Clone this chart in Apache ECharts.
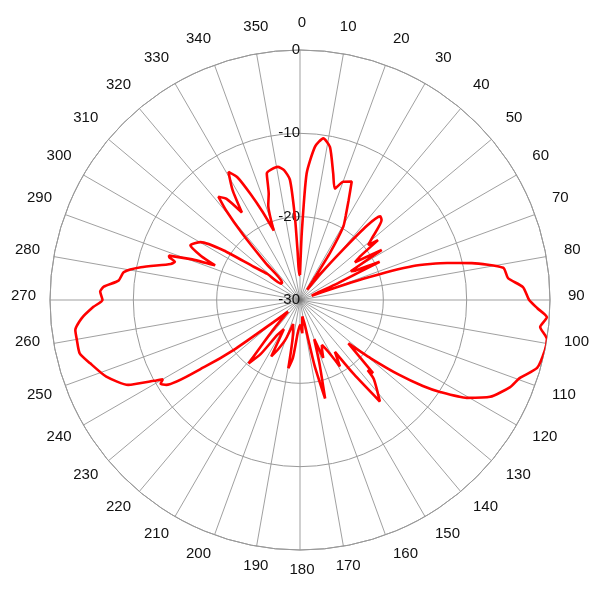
<!DOCTYPE html>
<html>
<head>
<meta charset="utf-8">
<script src="https://cdn.jsdelivr.net/npm/echarts@6/dist/echarts.min.js"></script>
<style>html,body{margin:0;padding:0;background:#fff}#c{width:600px;height:600px}</style>
</head>
<body>
<div id="c"></div>
<script>
// Pattern readings: angle (deg, clockwise from north) and level (dB)
var angles = [0, 1.5, 3, 5.6, 8.2, 11.1, 14.7, 17.4, 20.1, 23.6, 26, 28.5, 30.6, 32.5, 33.6, 35, 38, 40.5, 42, 43.8, 45.6, 49.3, 51.2, 52.5, 54, 55.5, 58.5, 60.5, 62, 64.4, 66, 68, 70, 71.5, 73.3, 75.9, 77.9, 81, 84, 86.7, 90, 92, 94, 96.4, 99, 101.5, 106, 109.5, 112.5, 117, 120.4, 123.3, 125, 127, 129.5, 131.9, 135, 136, 137, 141.8, 144, 146, 149, 151.5, 154, 156, 158.2, 160, 163, 165.7, 167.5, 169, 172, 176, 180, 184, 187, 189.7, 192, 196, 200, 204, 207, 209, 213, 216, 219, 222, 226, 230, 233, 235, 237.6, 239, 240, 241, 243.7, 248.4, 253.2, 256.4, 259.8, 262.4, 265.2, 268.1, 270, 272.4, 273.9, 276.1, 279, 281.6, 285.6, 287, 288.1, 288.7, 290.5, 292.2, 294, 296.5, 300.2, 303, 305.5, 308.6, 311, 314, 317, 319, 320.5, 321.7, 324, 326.4, 328.5, 330.8, 333, 335, 337, 339.3, 341.5, 343.6, 345.3, 350.5, 353, 355.2, 356.5, 357.2, 358, 360];
var levels = [-27, -22, -14.8, -11.5, -10.4, -11.3, -14.3, -16, -14.9, -14.5, -16.7, -18.5, -19.8, -23.3, -27.1, -28.5, -26, -22, -18, -16.1, -16.3, -18.6, -19.5, -18.2, -21, -22, -18.5, -23, -22.5, -19.4, -25, -28, -28.5, -22, -15.8, -11.8, -8.9, -5.3, -4.9, -3.2, -2.5, -1.5, -0.3, -1.0, 0, 0, -0.4, -2, -2.7, -4.4, -6.8, -9.9, -12, -15, -19, -22.2, -17.6, -18.3, -17, -14.5, -19, -22.5, -20.7, -23, -24, -23.5, -22.5, -25, -22, -17.8, -22, -27, -28, -26, -27, -26, -23, -21.7, -26, -27, -25, -23.5, -22.4, -26, -25, -22, -20.2, -25, -28, -26, -20, -16, -11, -10.5, -11, -10, -7, -5, -3.7, -2.8, -2.8, -2.8, -3.7, -5.2, -6.3, -6.0, -6.4, -8.1, -8.6, -10.5, -13.9, -14.3, -13.5, -13.4, -16, -19, -17, -15.3, -16.2, -19.1, -23, -25, -27, -27, -24, -19.5, -16, -14.2, -15, -17.4, -14.5, -12.4, -13.5, -16, -18.5, -21.1, -18, -16.7, -14.3, -13.8, -14.3, -15.5, -20, -24.4, -27, -27];
var radiusTicks = [-30, -20, -10, 0];
var angleTicks = [0, 10, 20, 30, 40, 50, 60, 70, 80, 90, 100, 110, 120, 130, 140, 150, 160, 170, 180, 190, 200, 210, 220, 230, 240, 250, 260, 270, 280, 290, 300, 310, 320, 330, 340, 350];

var seriesData = angles.map(function (a, i) { return [levels[i], a]; });
var FONT = 'Liberation Sans, Arial, sans-serif';

var chart = echarts.init(document.getElementById('c'), null, {renderer: 'canvas'});
chart.setOption({
  animation: false,
  backgroundColor: '#ffffff',
  polar: [
    { center: [300, 300], radius: 250 },
    { center: [302, 296], radius: 250 }
  ],
  angleAxis: [{
    polarIndex: 0,
    type: 'value', min: 0, max: 360, interval: 10, startAngle: 90, clockwise: true,
    axisLine: { show: true, lineStyle: { color: '#999', width: 1 } },
    axisTick: { show: false },
    axisLabel: { show: false },
    splitLine: { show: true, lineStyle: { color: '#777', width: 0.7 } }
  }, {
    polarIndex: 1,
    type: 'value', min: 0, max: 360, interval: 10, startAngle: 90, clockwise: true,
    axisLine: { show: false }, axisTick: { show: false }, splitLine: { show: false },
    axisLabel: {
      margin: 16, color: '#111', fontSize: 15, fontFamily: FONT,
      formatter: function (v) { return angleTicks.indexOf(v) >= 0 ? String(v) : ''; }
    }
  }],
  radiusAxis: [{
    polarIndex: 0,
    type: 'value', min: -30, max: 0, interval: 10,
    axisLine: { show: false }, axisTick: { show: false },
    axisLabel: {
      margin: 0, color: '#111', fontSize: 15, fontFamily: FONT,
      formatter: function (v) { return radiusTicks.indexOf(v) >= 0 ? String(v) : ''; }
    },
    splitLine: { show: true, lineStyle: { color: '#999', width: 1 } },
    z: 1
  }, {
    polarIndex: 1,
    type: 'value', min: -30, max: 0, show: false,
    axisLine: { show: false }, axisTick: { show: false }, axisLabel: { show: false }, splitLine: { show: false }
  }],
  series: [{
    type: 'line', coordinateSystem: 'polar', polarIndex: 0, data: seriesData,
    showSymbol: false, symbol: 'none', smooth: 0.2,
    lineStyle: { color: '#ff0000', width: 2.6 }, z: 5
  }]
});
</script>
</body>
</html>
